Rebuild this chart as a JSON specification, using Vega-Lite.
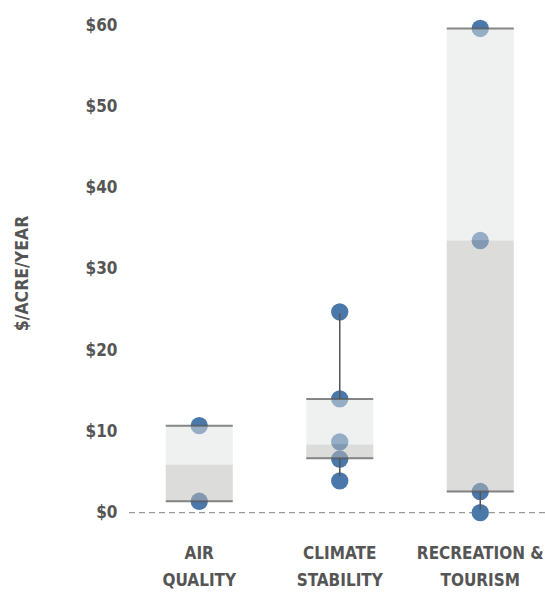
{
  "$schema": "https://vega.github.io/schema/vega-lite/v6.json",
  "width": 416,
  "height": 528,
  "autosize": "none",
  "padding": {"left": 129, "top": 9, "right": 0, "bottom": 58},
  "background": "white",
  "config": {
    "view": {"stroke": null},
    "font": "DejaVu Sans Condensed"
  },
  "datasets": {
    "points": [
      {"category": "AIR|QUALITY", "value": 10.7},
      {"category": "AIR|QUALITY", "value": 1.4},
      {"category": "CLIMATE|STABILITY", "value": 24.7},
      {"category": "CLIMATE|STABILITY", "value": 14.0},
      {"category": "CLIMATE|STABILITY", "value": 8.7},
      {"category": "CLIMATE|STABILITY", "value": 6.6},
      {"category": "CLIMATE|STABILITY", "value": 3.9},
      {"category": "RECREATION &|TOURISM", "value": 59.6},
      {"category": "RECREATION &|TOURISM", "value": 33.5},
      {"category": "RECREATION &|TOURISM", "value": 2.6},
      {"category": "RECREATION &|TOURISM", "value": 0}
    ],
    "boxes": [
      {"category": "AIR|QUALITY", "low": 1.4, "mid": 5.9, "high": 10.7},
      {"category": "CLIMATE|STABILITY", "low": 6.7, "mid": 8.4, "high": 14.0},
      {"category": "RECREATION &|TOURISM", "low": 2.6, "mid": 33.5, "high": 59.6}
    ],
    "whiskers": [
      {"category": "CLIMATE|STABILITY", "from": 14.0, "to": 24.5},
      {"category": "CLIMATE|STABILITY", "from": 6.7, "to": 4.5},
      {"category": "RECREATION &|TOURISM", "from": 2.6, "to": 0.4}
    ],
    "zero": [{"value": 0}]
  },
  "layer": [
    {
      "data": {"name": "zero"},
      "mark": {"type": "rule", "color": "#9a9a9a", "strokeDash": [6, 4], "strokeWidth": 1.2},
      "encoding": {"y": {"field": "value", "type": "quantitative"}}
    },
    {
      "data": {"name": "points"},
      "mark": {"type": "circle", "size": 300, "color": "#4a78aa", "opacity": 1},
      "encoding": {
        "x": {
          "field": "category",
          "type": "nominal",
          "sort": ["AIR|QUALITY", "CLIMATE|STABILITY", "RECREATION &|TOURISM"],
          "scale": {"range": [0, 421.5], "paddingInner": 0, "paddingOuter": 0},
          "axis": {
            "title": null,
            "labelAngle": 0,
            "ticks": false,
            "domain": false,
            "labelExpr": "split(datum.label, '|')",
            "labelFontSize": 17,
            "labelFontWeight": "bold",
            "labelColor": "#555555",
            "labelLineHeight": 27,
            "labelPadding": 8,
            "labelBaseline": "top"
          }
        },
        "y": {
          "field": "value",
          "type": "quantitative",
          "scale": {"domain": [-3, 62], "nice": false, "zero": false},
          "axis": {
            "title": "$/ACRE/YEAR",
            "values": [0, 10, 20, 30, 40, 50, 60],
            "labelExpr": "'$' + datum.value",
            "grid": false,
            "ticks": false,
            "domain": false,
            "labelFontSize": 17,
            "labelFontWeight": "bold",
            "labelColor": "#555555",
            "labelPadding": 12,
            "titleFontSize": 17.5,
            "titleFontWeight": "bold",
            "titleColor": "#555555",
            "titlePadding": 54
          }
        }
      }
    },
    {
      "data": {"name": "boxes"},
      "mark": {"type": "bar", "color": "#dfe3e1", "opacity": 0.5, "width": {"band": 0.477}},
      "encoding": {
        "x": {"field": "category", "type": "nominal"},
        "y": {"field": "mid", "type": "quantitative"},
        "y2": {"field": "high"}
      }
    },
    {
      "data": {"name": "boxes"},
      "mark": {"type": "bar", "color": "#b9b9b7", "opacity": 0.5, "width": {"band": 0.477}},
      "encoding": {
        "x": {"field": "category", "type": "nominal"},
        "y": {"field": "low", "type": "quantitative"},
        "y2": {"field": "mid"}
      }
    },
    {
      "data": {"name": "whiskers"},
      "mark": {"type": "rule", "color": "#555555", "strokeWidth": 1.5},
      "encoding": {
        "x": {"field": "category", "type": "nominal"},
        "y": {"field": "from", "type": "quantitative"},
        "y2": {"field": "to"}
      }
    },
    {
      "data": {"name": "boxes"},
      "mark": {"type": "tick", "color": "#555555", "thickness": 2, "size": 67},
      "encoding": {
        "x": {"field": "category", "type": "nominal"},
        "y": {"field": "low", "type": "quantitative"}
      }
    },
    {
      "data": {"name": "boxes"},
      "mark": {"type": "tick", "color": "#555555", "thickness": 2, "size": 67},
      "encoding": {
        "x": {"field": "category", "type": "nominal"},
        "y": {"field": "high", "type": "quantitative"}
      }
    }
  ]
}
